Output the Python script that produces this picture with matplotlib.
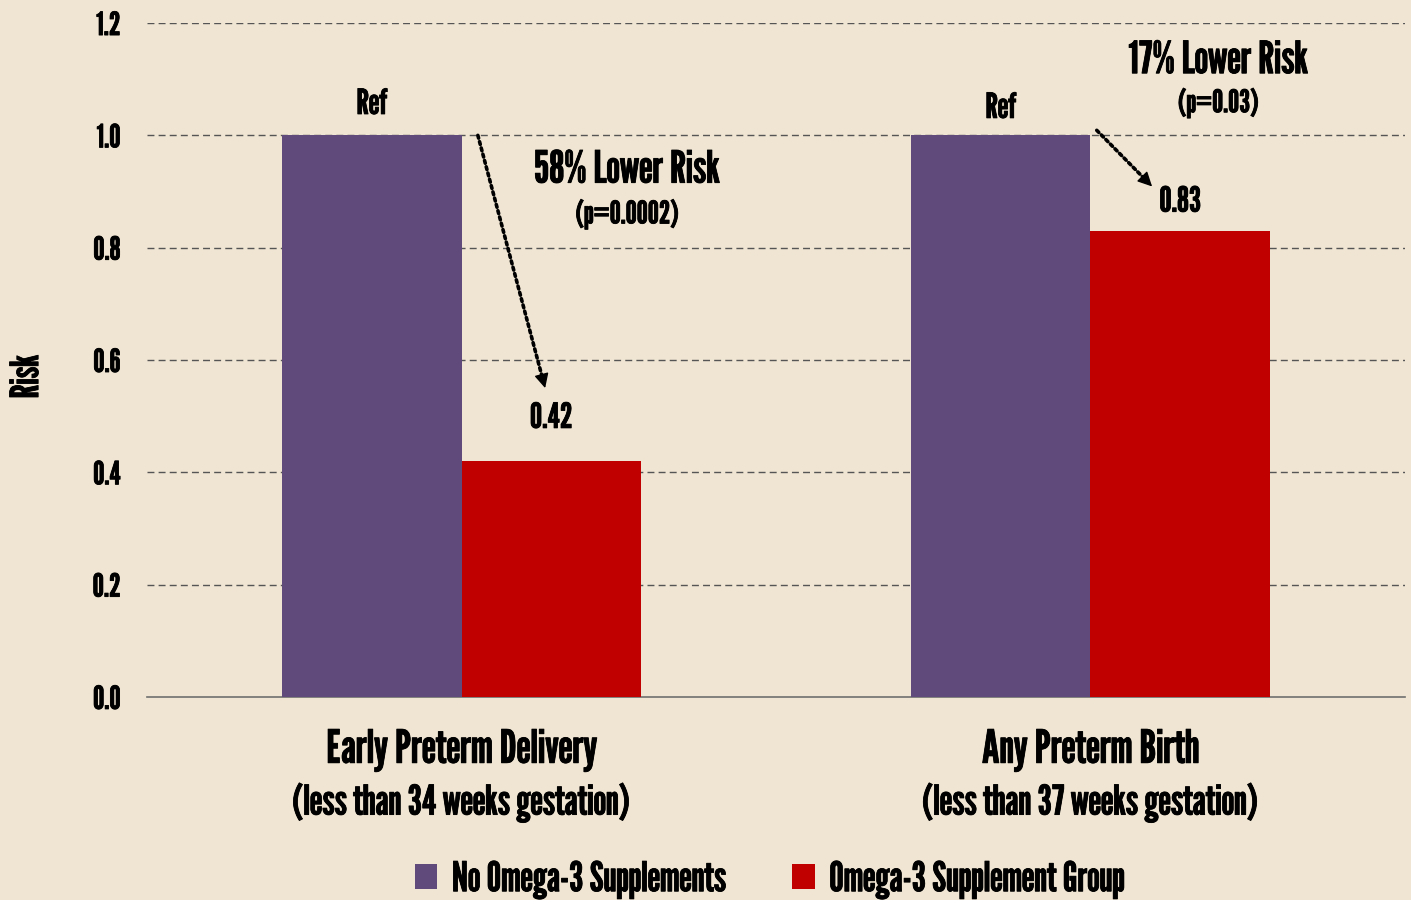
import matplotlib
matplotlib.use("Agg")
import matplotlib.pyplot as plt
import matplotlib.patheffects as pe
import numpy as np

# data
groups = ["Early Preterm Delivery", "Any Preterm Birth"]
subtitles = ["(less than 34 weeks gestation)", "(less than 37 weeks gestation)"]
no_omega = [1.0, 1.0]
omega = [0.42, 0.83]
series_names = ["No Omega-3 Supplements", "Omega-3 Supplement Group"]
risk_text = ["58% Lower Risk", "17% Lower Risk"]
p_text = ["(p=0.0002)", "(p=0.03)"]
yticks = [0.0, 0.2, 0.4, 0.6, 0.8, 1.0, 1.2]

plt.rcParams['font.family'] = ['League Gothic', 'DejaVu Sans']

bg = '#F0E5D2'
purple = '#604A7B'
red = '#C00000'
bold = [pe.withStroke(linewidth=0.6, foreground='black')]

fig = plt.figure(figsize=(14.11, 9), dpi=100, facecolor=bg)
ax = fig.add_axes([0.1042, 0.2256, 0.8915, 0.7488], facecolor=bg)

x = np.arange(len(groups))
w = 0.285
ax.bar(x - w / 2, no_omega, w, color=purple, zorder=3, label=series_names[0])
ax.bar(x + w / 2, omega, w, color=red, zorder=3, label=series_names[1])

ax.set_xlim(-0.5, 1.5)
ax.set_ylim(0, 1.2)
ax.set_yticks(yticks)
ax.set_yticklabels([f"{t:.1f}" for t in yticks], fontsize=23)
for lab in ax.get_yticklabels():
    lab.set_path_effects(bold)
ax.tick_params(axis='y', length=0, pad=19)
ax.set_xticks([])
for t in yticks[1:]:
    ax.axhline(t, color='#555555', lw=1, ls=(0, (5, 3)), zorder=1)
for s in ['top', 'right', 'left']:
    ax.spines[s].set_visible(False)
ax.spines['bottom'].set_color('#707070')
ax.spines['bottom'].set_linewidth(1.2)

ax.set_ylabel("Risk", fontsize=28, path_effects=bold)
ax.yaxis.set_label_coords(-0.081, 0.475)

# value labels
for i in range(2):
    ax.text(x[i] - w / 2, [1.055, 1.048][i], "Ref", ha='center', va='center',
            fontsize=25, path_effects=bold)
    ax.text(x[i] + w / 2, omega[i] + [0.076, 0.051][i], f"{omega[i]:.2f}", ha='center',
            va='center', fontsize=25, path_effects=bold)

# risk annotations
ax.text(0.263, 0.938, risk_text[0], ha='center', va='center', fontsize=32, path_effects=bold)
ax.text(0.263, 0.859, p_text[0], ha='center', va='center', fontsize=22.5, path_effects=bold)
ax.text(1.203, 1.133, risk_text[1], ha='center', va='center', fontsize=32, path_effects=bold)
ax.text(1.203, 1.057, p_text[1], ha='center', va='center', fontsize=22.5, path_effects=bold)

arrows = [((0.026, 1.0), (0.133, 0.550)), ((1.010, 1.009), (1.098, 0.909))]
for start, end in arrows:
    ax.annotate("", xy=end, xytext=start,
                arrowprops=dict(arrowstyle='-', ls=(0, (0.8, 1.0)), lw=2.6, color='black',
                                shrinkA=0, shrinkB=6))
    near = (end[0] - (end[0] - start[0]) * 0.05, end[1] - (end[1] - start[1]) * 0.05)
    ax.annotate("", xy=end, xytext=near,
                arrowprops=dict(arrowstyle='-|>', lw=1, color='black',
                                mutation_scale=22, shrinkA=0, shrinkB=0))

# category labels
for i in range(2):
    ax.text(x[i], -0.095, groups[i], ha='center', va='center', fontsize=33,
            clip_on=False, path_effects=bold)
    ax.text(x[i], -0.188, subtitles[i], ha='center', va='center', fontsize=29.5,
            clip_on=False, path_effects=bold)

leg = fig.legend(loc='center', bbox_to_anchor=(0.5457, 0.022), ncol=2,
                 frameon=False, fontsize=29.5, handlelength=0.55, handleheight=0.55,
                 columnspacing=1.6, handletextpad=0.35)
for t in leg.get_texts():
    t.set_path_effects(bold)

fig.savefig("out.png", dpi=100, facecolor=bg)
